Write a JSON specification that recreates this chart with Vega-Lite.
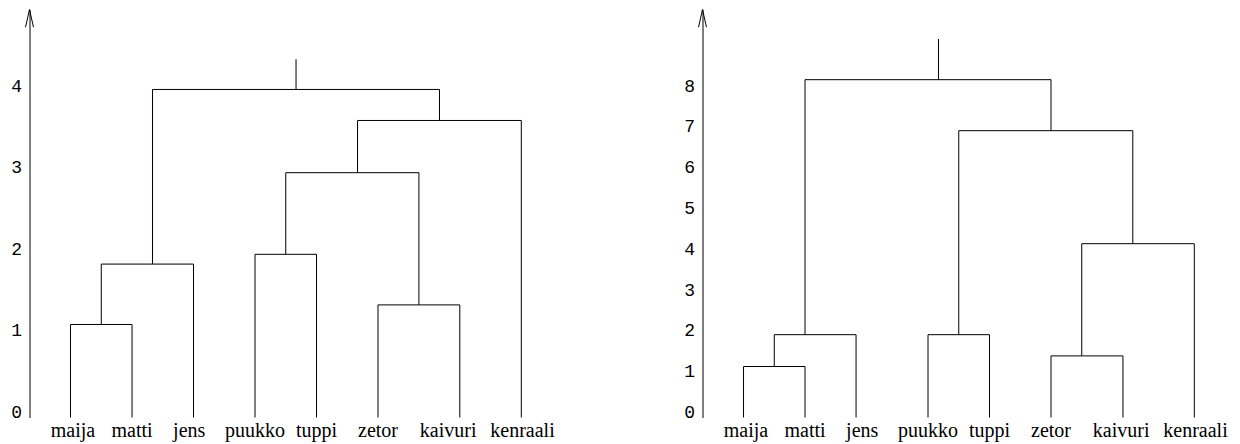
{
  "$schema": "https://vega.github.io/schema/vega-lite/v6.json",
  "padding": {"left": 10.5, "top": 7.5, "right": 5, "bottom": 2},
  "background": "white",
  "bounds": "flush",
  "spacing": 128,
  "config": {
    "view": {"stroke": null},
    "axisY": {
      "domainColor": "black",
      "domainWidth": 1,
      "ticks": false,
      "tickSize": 0,
      "grid": false,
      "labelFont": "Liberation Mono",
      "labelFontSize": 18,
      "labelColor": "black",
      "labelBaseline": "alphabetic",
      "labelPadding": 8,
      "format": "d",
      "title": null
    }
  },
  "datasets": {
    "labels": [
      {"name": "maija", "pos": 0.04},
      {"name": "matti", "pos": 1.0},
      {"name": "jens", "pos": 1.93},
      {"name": "puukko", "pos": 3.0},
      {"name": "tuppi", "pos": 4.0},
      {"name": "zetor", "pos": 5.0},
      {"name": "kaivuri", "pos": 6.14},
      {"name": "kenraali", "pos": 7.35}
    ],
    "left": [
      {"x1": 0, "x2": 0, "y1": 0, "y2": 1.14},
      {"x1": 1, "x2": 1, "y1": 0, "y2": 1.14},
      {"x1": 2, "x2": 2, "y1": 0, "y2": 1.88},
      {"x1": 3, "x2": 3, "y1": 0, "y2": 2.0},
      {"x1": 4, "x2": 4, "y1": 0, "y2": 2.0},
      {"x1": 5, "x2": 5, "y1": 0, "y2": 1.38},
      {"x1": 6.33, "x2": 6.33, "y1": 0, "y2": 1.38},
      {"x1": 7.33, "x2": 7.33, "y1": 0, "y2": 3.64},
      {"x1": 0, "x2": 1, "y1": 1.14, "y2": 1.14},
      {"x1": 0.5, "x2": 2, "y1": 1.88, "y2": 1.88},
      {"x1": 3, "x2": 4, "y1": 2.0, "y2": 2.0},
      {"x1": 5, "x2": 6.33, "y1": 1.38, "y2": 1.38},
      {"x1": 3.5, "x2": 5.665, "y1": 3.0, "y2": 3.0},
      {"x1": 4.667, "x2": 7.33, "y1": 3.64, "y2": 3.64},
      {"x1": 1.333, "x2": 6.0, "y1": 4.02, "y2": 4.02},
      {"x1": 0.5, "x2": 0.5, "y1": 1.14, "y2": 1.88},
      {"x1": 1.333, "x2": 1.333, "y1": 1.88, "y2": 4.02},
      {"x1": 3.5, "x2": 3.5, "y1": 2.0, "y2": 3.0},
      {"x1": 5.665, "x2": 5.665, "y1": 1.38, "y2": 3.0},
      {"x1": 4.667, "x2": 4.667, "y1": 3.0, "y2": 3.64},
      {"x1": 6.0, "x2": 6.0, "y1": 3.64, "y2": 4.02},
      {"x1": 3.667, "x2": 3.667, "y1": 4.02, "y2": 4.39}
    ],
    "right": [
      {"x1": 0, "x2": 0, "y1": 0, "y2": 1.25},
      {"x1": 1, "x2": 1, "y1": 0, "y2": 1.25},
      {"x1": 1.83, "x2": 1.83, "y1": 0, "y2": 2.03},
      {"x1": 3, "x2": 3, "y1": 0, "y2": 2.03},
      {"x1": 4, "x2": 4, "y1": 0, "y2": 2.03},
      {"x1": 5, "x2": 5, "y1": 0, "y2": 1.51},
      {"x1": 6.17, "x2": 6.17, "y1": 0, "y2": 1.51},
      {"x1": 7.33, "x2": 7.33, "y1": 0, "y2": 4.26},
      {"x1": 0, "x2": 1, "y1": 1.25, "y2": 1.25},
      {"x1": 0.5, "x2": 1.83, "y1": 2.03, "y2": 2.03},
      {"x1": 3, "x2": 4, "y1": 2.03, "y2": 2.03},
      {"x1": 5, "x2": 6.17, "y1": 1.51, "y2": 1.51},
      {"x1": 5.5, "x2": 7.33, "y1": 4.26, "y2": 4.26},
      {"x1": 3.5, "x2": 6.33, "y1": 7.03, "y2": 7.03},
      {"x1": 1.0, "x2": 5.0, "y1": 8.28, "y2": 8.28},
      {"x1": 0.5, "x2": 0.5, "y1": 1.25, "y2": 2.03},
      {"x1": 1.0, "x2": 1.0, "y1": 2.03, "y2": 8.28},
      {"x1": 3.5, "x2": 3.5, "y1": 2.03, "y2": 7.03},
      {"x1": 5.5, "x2": 5.5, "y1": 1.51, "y2": 4.26},
      {"x1": 6.33, "x2": 6.33, "y1": 4.26, "y2": 7.03},
      {"x1": 5.0, "x2": 5.0, "y1": 7.03, "y2": 8.28},
      {"x1": 3.17, "x2": 3.17, "y1": 8.28, "y2": 9.28}
    ],
    "arrowL": [{"x": -0.667, "y": 5}],
    "arrowR": [{"x": -0.667, "y": 10}]
  },
  "hconcat": [
    {
      "width": 545,
      "height": 408,
      "layer": [
        {
          "data": {"name": "left"},
          "mark": {"type": "rule", "color": "black", "strokeWidth": 1},
          "encoding": {
            "x": {"field": "x1", "type": "quantitative", "scale": {"domain": [-0.667, 8.195], "nice": false, "zero": false}, "axis": null},
            "x2": {"field": "x2"},
            "y": {"field": "y1", "type": "quantitative", "scale": {"domain": [0, 5], "nice": false}, "axis": {"values": [0, 1, 2, 3, 4]}},
            "y2": {"field": "y2"}
          }
        },
        {
          "data": {"name": "labels"},
          "mark": {"type": "text", "font": "Liberation Serif, Times New Roman, serif", "fontSize": 20, "baseline": "alphabetic", "align": "center", "dy": 19, "color": "black"},
          "encoding": {
            "x": {"field": "pos", "type": "quantitative"},
            "y": {"datum": 0, "type": "quantitative"},
            "text": {"field": "name"}
          }
        },
        {
          "data": {"name": "arrowL"},
          "mark": {"type": "point", "shape": "M -0.45 2 L 0 0 L 0.45 2", "size": 313, "filled": false, "stroke": "black", "strokeWidth": 1, "opacity": 1},
          "encoding": {
            "x": {"field": "x", "type": "quantitative"},
            "y": {"field": "y", "type": "quantitative"}
          }
        }
      ]
    },
    {
      "width": 545,
      "height": 408,
      "layer": [
        {
          "data": {"name": "right"},
          "mark": {"type": "rule", "color": "black", "strokeWidth": 1},
          "encoding": {
            "x": {"field": "x1", "type": "quantitative", "scale": {"domain": [-0.667, 8.195], "nice": false, "zero": false}, "axis": null},
            "x2": {"field": "x2"},
            "y": {"field": "y1", "type": "quantitative", "scale": {"domain": [0, 10], "nice": false}, "axis": {"values": [0, 1, 2, 3, 4, 5, 6, 7, 8]}},
            "y2": {"field": "y2"}
          }
        },
        {
          "data": {"name": "labels"},
          "mark": {"type": "text", "font": "Liberation Serif, Times New Roman, serif", "fontSize": 20, "baseline": "alphabetic", "align": "center", "dy": 19, "color": "black"},
          "encoding": {
            "x": {"field": "pos", "type": "quantitative"},
            "y": {"datum": 0, "type": "quantitative"},
            "text": {"field": "name"}
          }
        },
        {
          "data": {"name": "arrowR"},
          "mark": {"type": "point", "shape": "M -0.45 2 L 0 0 L 0.45 2", "size": 313, "filled": false, "stroke": "black", "strokeWidth": 1, "opacity": 1},
          "encoding": {
            "x": {"field": "x", "type": "quantitative"},
            "y": {"field": "y", "type": "quantitative"}
          }
        }
      ]
    }
  ]
}
